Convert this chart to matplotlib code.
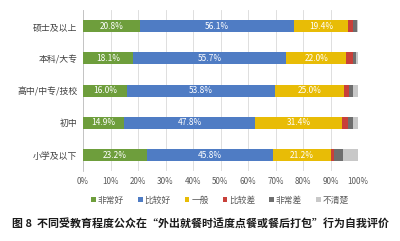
import matplotlib
matplotlib.use("Agg")
import matplotlib.pyplot as plt
import numpy as np

plt.rcParams['font.family'] = ['Noto Sans CJK SC', 'DejaVu Sans']

categories = ["硕士及以上", "本科/大专", "高中/中专/技校", "初中", "小学及以下"]
series_names = ["非常好", "比较好", "一般", "比较差", "非常差", "不清楚"]
very_good = [20.8, 18.1, 16.0, 14.9, 23.2]
good = [56.1, 55.7, 53.8, 47.8, 45.8]
average = [19.4, 22.0, 25.0, 31.4, 21.2]
poor = [1.9, 2.2, 2.1, 2.2, 1.1]
very_poor = [1.3, 1.2, 1.2, 1.8, 3.4]
unclear = [0.5, 0.8, 1.9, 1.9, 5.3]
xtick_labels = ["0%", "10%", "20%", "30%", "40%", "50%", "60%", "70%", "80%", "90%", "100%"]

series = [very_good, good, average, poor, very_poor, unclear]
colors = ["#6E9E3C", "#4F7CC4", "#E8BC06", "#C8403A", "#6E6E6E", "#C8C8C8"]
labelled = [True, True, True, False, False, False]

fig = plt.figure(figsize=(4.0, 2.41), dpi=100)
ax = fig.add_axes([0.2075, 0.29, 0.6875, 0.668])

y = np.arange(len(categories))
left = np.zeros(len(categories))
for name, vals, col, lab in zip(series_names, series, colors, labelled):
    vals = np.array(vals)
    bars = ax.barh(y, vals, left=left, height=0.37, color=col, label=name, zorder=3)
    if lab:
        for b, v in zip(bars, vals):
            ax.text(b.get_x() + b.get_width() / 2, b.get_y() + b.get_height() / 2,
                    f"{v:.1f}%", ha="center", va="center", color="white",
                    fontsize=6.0, zorder=4)
    left += vals

ax.set_xlim(0, 100)
ax.set_ylim(len(categories) - 0.5, -0.5)
ax.set_xticks(np.arange(0, 101, 10))
ax.set_xticklabels(xtick_labels, fontsize=5.8, color="#595959")
ax.set_yticks(y)
ax.set_yticklabels(categories, fontsize=6.4, color="#404040")
ax.tick_params(axis="both", length=0, pad=4)
ax.grid(axis="x", color="#D9D9D9", linewidth=0.6, zorder=0)
for s in ["top", "right", "bottom"]:
    ax.spines[s].set_visible(False)
ax.spines["left"].set_color("#BFBFBF")
ax.spines["left"].set_linewidth(0.6)

fig.legend(loc="center", bbox_to_anchor=(0.55, 0.17), ncol=6, frameon=False,
           fontsize=6.3, handlelength=0.55, handleheight=0.55, handletextpad=0.2,
           columnspacing=1.6, labelcolor="#595959")

fig.text(0.5, 0.075, "图 8  不同受教育程度公众在“外出就餐时适度点餐或餐后打包”行为自我评价",
         ha="center", va="center", fontsize=7.9, fontweight="bold", color="#1a1a1a")

fig.savefig("out.png", dpi=100, facecolor="white")
